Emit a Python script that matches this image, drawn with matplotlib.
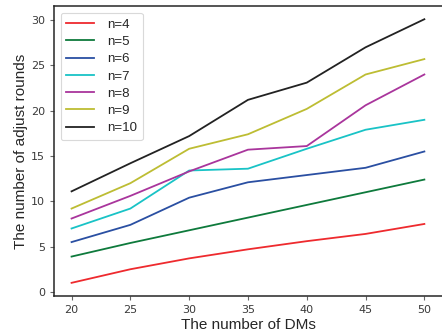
import matplotlib
matplotlib.use("Agg")
import matplotlib.pyplot as plt

dms = [20, 25, 30, 35, 40, 45, 50]
labels = ["n=4", "n=5", "n=6", "n=7", "n=8", "n=9", "n=10"]
n4 = [1.0, 2.5, 3.7, 4.7, 5.6, 6.4, 7.5]
n5 = [3.9, 5.4, 6.8, 8.2, 9.6, 11.0, 12.4]
n6 = [5.5, 7.4, 10.4, 12.1, 12.9, 13.7, 15.5]
n7 = [7.0, 9.2, 13.4, 13.6, 15.8, 17.9, 19.0]
n8 = [8.1, 10.6, 13.3, 15.7, 16.1, 20.6, 24.0]
n9 = [9.2, 12.0, 15.8, 17.4, 20.2, 24.0, 25.7]
n10 = [11.1, 14.2, 17.2, 21.2, 23.1, 27.0, 30.1]
series = [n4, n5, n6, n7, n8, n9, n10]
colors = ["#ee2a2e", "#0e7a3c", "#2a4fa2", "#19c3c6", "#a9359c", "#bdbd33", "#222222"]

plt.rcParams['font.family'] = ['DejaVu Sans']
fig = plt.figure(figsize=(4.42, 3.36), dpi=100)
ax = fig.add_axes([0.122, 0.119, 0.878, 0.863])
for s, c, l in zip(series, colors, labels):
    ax.plot(dms, s, color=c, lw=1.3, label=l)

ax.set_xticks([20, 25, 30, 35, 40, 45, 50])
ax.set_yticks([0, 5, 10, 15, 20, 25, 30])
ax.tick_params(labelsize=8, labelcolor="#3a3a3a", color="#666666", length=3, width=0.8)
for sp in ax.spines.values():
    sp.set_color("#262626")
    sp.set_linewidth(1.1)
ax.spines["right"].set_visible(False)
ax.set_xlabel("The number of DMs", fontsize=11, color="#262626", labelpad=2,
              family=["Liberation Sans"])
ax.set_ylabel("The number of adjust rounds", fontsize=11, color="#262626", labelpad=2,
              family=["Liberation Sans"])
leg = ax.legend(loc="upper left", prop={"family": "Liberation Sans", "size": 9.5},
                frameon=True, fancybox=True, edgecolor="#d0d0d0",
                handlelength=2.05, handletextpad=1.0, labelspacing=0.38, borderpad=0.45)
leg.get_frame().set_linewidth(0.8)
for t in leg.get_texts():
    t.set_color("#262626")
fig.savefig("out.png", dpi=100)
